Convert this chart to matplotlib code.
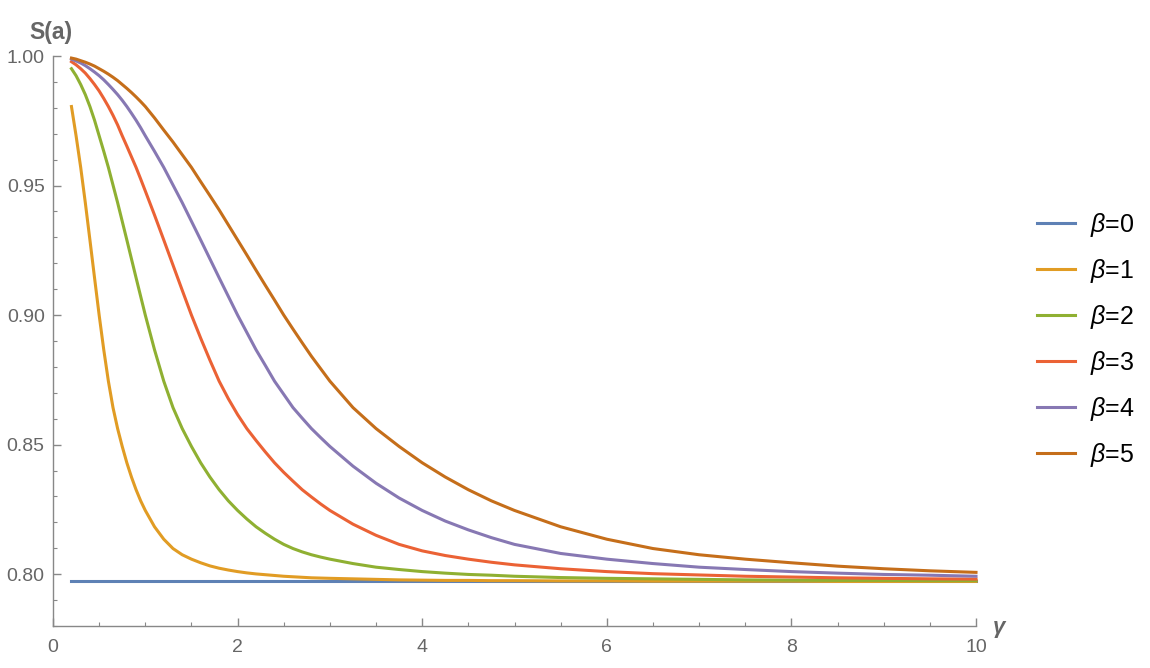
import matplotlib
matplotlib.use('Agg')
import matplotlib.pyplot as plt
from matplotlib.ticker import MultipleLocator, FormatStrFormatter

plt.rcParams['font.family'] = ['Liberation Sans', 'DejaVu Sans']
plt.rcParams['mathtext.fontset'] = 'custom'
plt.rcParams['mathtext.it'] = 'Liberation Sans:italic'
plt.rcParams['mathtext.rm'] = 'Liberation Sans'

# gamma grid
gamma = [0.2, 0.25, 0.3, 0.35, 0.4, 0.45, 0.5, 0.55, 0.6, 0.65, 0.7, 0.75, 0.8, 0.85, 0.9, 0.95, 1.0,
         1.1, 1.2, 1.3, 1.4, 1.5, 1.6, 1.7, 1.8, 1.9, 2.0, 2.1, 2.2, 2.3, 2.4, 2.5, 2.6, 2.7, 2.8, 2.9, 3.0,
         3.25, 3.5, 3.75, 4.0, 4.25, 4.5, 4.75, 5.0,
         5.5, 6.0, 6.5, 7.0, 7.5, 8.0, 8.5, 9.0, 9.5, 10.0]

s_b0 = [0.7972] * len(gamma)
s_b1 = [0.9805, 0.9692, 0.9570, 0.9434, 0.9290, 0.9144, 0.9000, 0.8866, 0.8745, 0.8643, 0.8562, 0.8493,
        0.8430, 0.8375, 0.8326, 0.8283, 0.8246,
        0.8183, 0.8135, 0.8099, 0.8075, 0.8058, 0.8044, 0.8032, 0.8023, 0.8016, 0.8010, 0.8005, 0.8001,
        0.7998, 0.7995, 0.7992, 0.7990, 0.7988, 0.7986, 0.7985, 0.7984,
        0.7982, 0.7980, 0.7978, 0.7977, 0.7976, 0.7976, 0.7975, 0.7975,
        0.7974, 0.7974, 0.7973, 0.7973, 0.7973, 0.7973, 0.7972, 0.7972, 0.7972, 0.7972]
s_b2 = [0.9951, 0.9924, 0.9890, 0.9851, 0.9805, 0.9752, 0.9692, 0.9632, 0.9570, 0.9502, 0.9434, 0.9362,
        0.9290, 0.9217, 0.9144, 0.9072, 0.9000,
        0.8866, 0.8745, 0.8643, 0.8562, 0.8493, 0.8430, 0.8375, 0.8326, 0.8283, 0.8246, 0.8213, 0.8183,
        0.8158, 0.8135, 0.8115, 0.8099, 0.8086, 0.8075, 0.8066, 0.8058,
        0.8041, 0.8027, 0.8018, 0.8010, 0.8004, 0.7999, 0.7996, 0.7992,
        0.7987, 0.7984, 0.7982, 0.7980, 0.7978, 0.7977, 0.7976, 0.7976, 0.7975, 0.7975]
s_b3 = [0.9978, 0.9966, 0.9951, 0.9934, 0.9913, 0.9890, 0.9865, 0.9836, 0.9805, 0.9771, 0.9734, 0.9692,
        0.9652, 0.9611, 0.9570, 0.9525, 0.9479,
        0.9386, 0.9290, 0.9193, 0.9096, 0.9000, 0.8911, 0.8826, 0.8745, 0.8677, 0.8616, 0.8562, 0.8516,
        0.8472, 0.8430, 0.8393, 0.8359, 0.8326, 0.8298, 0.8271, 0.8246,
        0.8193, 0.8150, 0.8115, 0.8090, 0.8072, 0.8058, 0.8046, 0.8036,
        0.8021, 0.8010, 0.8002, 0.7997, 0.7992, 0.7989, 0.7986, 0.7984, 0.7982, 0.7981]
s_b4 = [0.9988, 0.9981, 0.9973, 0.9963, 0.9951, 0.9938, 0.9924, 0.9908, 0.9890, 0.9871, 0.9851, 0.9829,
        0.9805, 0.9779, 0.9752, 0.9723, 0.9692,
        0.9632, 0.9570, 0.9502, 0.9434, 0.9362, 0.9290, 0.9217, 0.9144, 0.9072, 0.9000, 0.8933, 0.8866,
        0.8806, 0.8745, 0.8694, 0.8643, 0.8602, 0.8562, 0.8527, 0.8493,
        0.8417, 0.8351, 0.8294, 0.8246, 0.8205, 0.8171, 0.8141, 0.8115,
        0.8080, 0.8058, 0.8041, 0.8027, 0.8018, 0.8010, 0.8004, 0.7999, 0.7996, 0.7992]
s_b5 = [0.9992, 0.9988, 0.9982, 0.9976, 0.9969, 0.9961, 0.9951, 0.9941, 0.9930, 0.9918, 0.9905, 0.9890,
        0.9875, 0.9859, 0.9842, 0.9824, 0.9805,
        0.9761, 0.9714, 0.9668, 0.9619, 0.9570, 0.9515, 0.9461, 0.9406, 0.9348, 0.9290, 0.9232, 0.9173,
        0.9115, 0.9058, 0.9000, 0.8946, 0.8893, 0.8841, 0.8793, 0.8745,
        0.8643, 0.8562, 0.8493, 0.8430, 0.8375, 0.8326, 0.8283, 0.8246,
        0.8183, 0.8135, 0.8099, 0.8075, 0.8058, 0.8044, 0.8031, 0.8021, 0.8013, 0.8007]

betas = ['0', '1', '2', '3', '4', '5']
series = [s_b0, s_b1, s_b2, s_b3, s_b4, s_b5]
colors = ['#5E81B5', '#E19C24', '#8FB032', '#EB6235', '#8778B3', '#C56E1A']

fig = plt.figure(figsize=(11.5, 6.68), dpi=100)
ax = fig.add_axes([53/1150, 42/668, 923/1150, 570/668])

for s, c, b in zip(series, colors, betas):
    ax.plot(gamma, s, color=c, lw=2.2, label=r'$\beta$=' + b, clip_on=False)

ax.set_xlim(0, 10)
ax.set_ylim(0.78, 1.0)
ax.spines['top'].set_visible(False)
ax.spines['right'].set_visible(False)
for sp in ['left', 'bottom']:
    ax.spines[sp].set_color('#888888')
    ax.spines[sp].set_linewidth(1)

ax.xaxis.set_major_locator(MultipleLocator(2))
ax.xaxis.set_minor_locator(MultipleLocator(0.5))
ax.yaxis.set_major_locator(MultipleLocator(0.05))
ax.yaxis.set_minor_locator(MultipleLocator(0.01))
ax.yaxis.set_major_formatter(FormatStrFormatter('%.2f'))
ax.tick_params(which='both', direction='in', colors='#888888',
               labelcolor='#666666', labelsize=14)
ax.tick_params(which='major', length=5.5, width=1)
ax.tick_params(which='minor', length=3, width=0.8)
ax.tick_params(axis='y', pad=6)
ax.tick_params(axis='x', pad=9)

fig.text(51/1150, 1 - 32/668, 'S(a)', ha='center', va='center',
         fontsize=16.5, fontweight='bold', color='#666666')
fig.text(999/1150, 1 - 628/668, 'γ', ha='center', va='center',
         fontsize=16, fontweight='bold', fontstyle='italic', color='#666666')

ax.legend(loc='upper left', bbox_to_anchor=(1037/1150, 1 - 211/668),
          bbox_transform=fig.transFigure, frameon=False, fontsize=18,
          handlelength=1.52, handletextpad=0.6, labelspacing=0.72,
          borderpad=0, borderaxespad=0)

fig.savefig('out.png', dpi=100)
